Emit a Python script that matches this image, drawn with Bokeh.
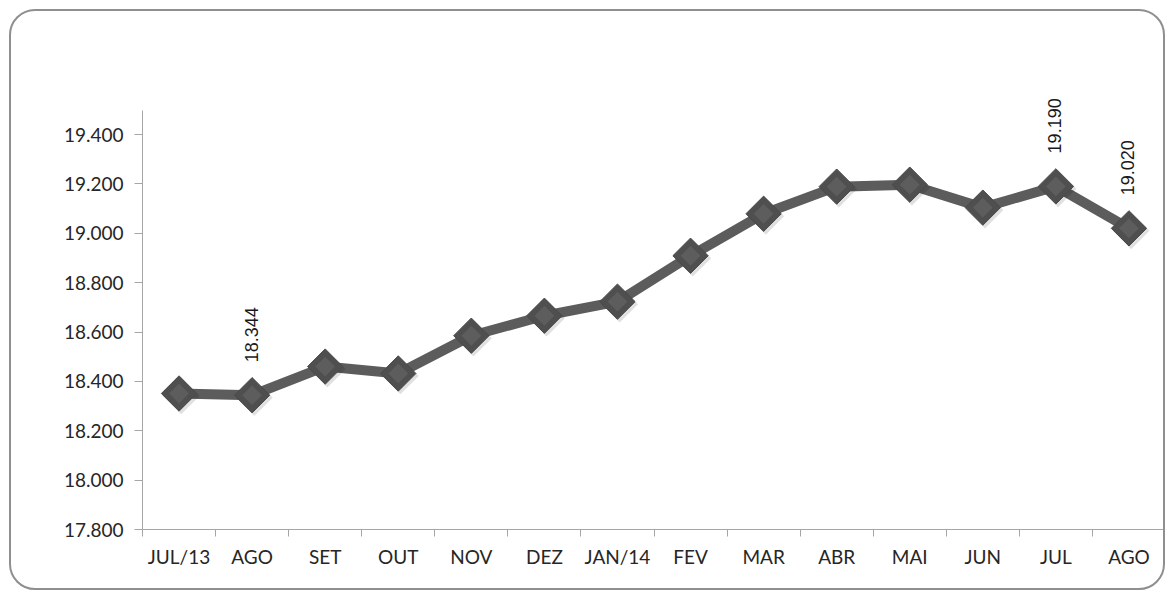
import math
from bokeh.plotting import figure
from bokeh.models import ColumnDataSource, FixedTicker, CustomJSTickFormatter, Range1d, LabelSet
from bokeh.core.properties import value
from bokeh.transform import dodge
from bokeh.embed import file_html
from bokeh.resources import INLINE

categories = ["JUL/13", "AGO", "SET", "OUT", "NOV", "DEZ", "JAN/14", "FEV",
              "MAR", "ABR", "MAI", "JUN", "JUL", "AGO"]
values = [18351, 18344, 18460, 18432, 18585, 18666, 18723, 18909,
          19079, 19189, 19197, 19104, 19190, 19020]
labeled = [1, 12, 13]
y_ticks = [17800, 18000, 18200, 18400, 18600, 18800, 19000, 19200, 19400]
y_axis_top = 19497


def fmt(v):
    return f"{v:,}".replace(",", ".")


xs = [i + 0.5 for i in range(len(categories))]
src = ColumnDataSource(dict(x=xs, y=values))
lab_src = ColumnDataSource(dict(x=[xs[i] for i in labeled],
                                y=[values[i] for i in labeled],
                                t=[fmt(values[i]) for i in labeled]))

p = figure(width=1156, height=581, output_backend="svg", toolbar_location=None,
           x_range=Range1d(0, len(categories)), y_range=Range1d(17800, 19700),
           min_border_left=131, min_border_right=2, min_border_top=49,
           min_border_bottom=63)
p.styles = {"border": "2px solid #8f8f8f", "border-radius": "26px",
            "margin": "9px 0 0 9px"}
p.background_fill_color = None
p.border_fill_color = None
p.outline_line_color = None
p.xgrid.visible = False
p.ygrid.visible = False

# y axis
p.yaxis.ticker = FixedTicker(ticks=y_ticks)
p.yaxis.bounds = (y_ticks[0], y_axis_top)
p.yaxis.formatter = CustomJSTickFormatter(
    code="return tick.toFixed(0).replace(/\\B(?=(\\d{3})+(?!\\d))/g, '.');")
p.yaxis.axis_line_color = "#a6a6a6"
p.yaxis.major_tick_line_color = "#a6a6a6"
p.yaxis.major_tick_out = 8
p.yaxis.major_tick_in = 0
p.yaxis.minor_tick_line_color = None
p.yaxis.major_label_text_font = "Lato"
p.yaxis.major_label_text_font_size = "19px"
p.yaxis.major_label_text_color = "#262626"
p.yaxis.major_label_standoff = 11

# x axis
p.xaxis.ticker = FixedTicker(ticks=xs, minor_ticks=list(range(len(categories) + 1)))
p.xaxis.major_label_overrides = {x: c for x, c in zip(xs, categories)}
p.xaxis.axis_line_color = "#a6a6a6"
p.xaxis.major_tick_line_color = None
p.xaxis.minor_tick_line_color = "#a6a6a6"
p.xaxis.minor_tick_out = 7
p.xaxis.minor_tick_in = 0
p.xaxis.major_label_text_font = "Lato"
p.xaxis.major_label_text_font_size = "19px"
p.xaxis.major_label_text_color = "#262626"
p.xaxis.major_label_standoff = 8

# line
p.line("x", "y", source=src, line_color="#5c5c5c", line_width=10, line_join="round")

# marker shadow
p.scatter(x=dodge("x", 0.03), y=dodge("y", -10), source=src, marker="square",
          size=26, angle=math.pi / 4, fill_color="black", fill_alpha=0.12,
          line_color=None)
# markers
p.scatter("x", "y", source=src, marker="square", size=25, angle=math.pi / 4,
          fill_color="#4f4f4f", line_color="#4a4a4a", line_width=1)
p.scatter("x", "y", source=src, marker="square", size=14, angle=math.pi / 4,
          fill_color="#5d5d5d", line_color=None)

# data labels
labels = LabelSet(x="x", y="y", text="t", source=lab_src, angle=math.pi / 2,
                  text_align="left", text_baseline="middle", y_offset=33, x_offset=-1,
                  text_font=value("Liberation Sans"), text_font_size=value("18px"),
                  text_color=value("#1a1a1a"))
p.add_layout(labels)

open("out.html", "w").write(file_html(p, INLINE))
